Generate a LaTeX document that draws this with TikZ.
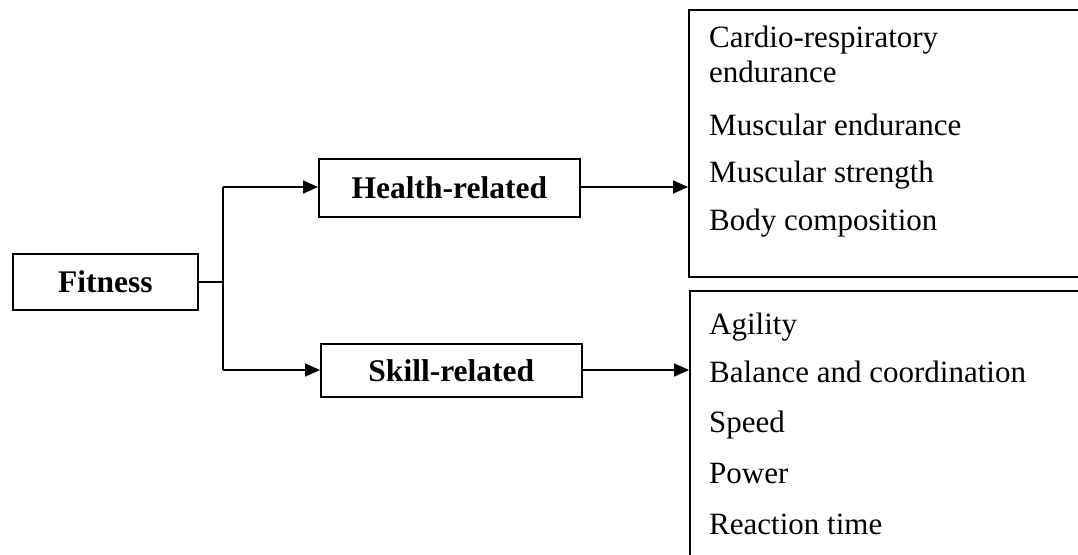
\documentclass[tikz,border=0pt]{standalone}
\usepackage{fontspec}
\setmainfont{Liberation Serif}
\usetikzlibrary{arrows.meta}
\tikzset{
  box/.style={draw, line width=1.6pt, rectangle, inner sep=0pt, anchor=north west},
  lbl/.style={font=\fontsize{31.5}{36}\selectfont\bfseries, inner sep=0pt},
  item/.style={font=\fontsize{31}{36}\selectfont, anchor=base west, inner sep=0pt},
  conn/.style={line width=1.6pt},
  arr/.style={line width=1.6pt, -{Triangle[length=15pt,width=13pt]}},
}
\begin{document}
\begin{tikzpicture}[x=1pt,y=-1pt]
\useasboundingbox (0,0) rectangle (1078,554);
\clip (0,0) rectangle (1078,554);
% main boxes
\node[box, minimum width=185pt, minimum height=56pt] (fit) at (12,253) {};
\node[lbl] (fitt) at (fit.center) {Fitness};
\node[box, minimum width=261pt, minimum height=58pt] (health) at (318,158) {};
\node[lbl] (healtht) at (health.center) {Health-related};
\node[box, minimum width=261pt, minimum height=53pt] (skill) at (320,343) {};
\node[lbl] (skillt) at (skill.center) {Skill-related};
% list boxes (extend beyond right/bottom edge)
\node[box, minimum width=420pt, minimum height=267pt] (hlist) at (688,9) {};
\node[box, minimum width=420pt, minimum height=300pt] (slist) at (689,290) {};
% list items
\node[item] (h1) at (709,47) {Cardio-respiratory};
\node[item] (h2) at (709,82) {endurance};
\node[item] (h3) at (709,135) {Muscular endurance};
\node[item] (h4) at (709,182) {Muscular strength};
\node[item] (h5) at (709,230) {Body composition};
\node[item] (s1) at (709,334) {Agility};
\node[item] (s2) at (709,382) {Balance and coordination};
\node[item] (s3) at (709,432) {Speed};
\node[item] (s4) at (709,483) {Power};
\node[item] (s5) at (709,534) {Reaction time};
% connectors
\coordinate (jt) at (223,187);
\coordinate (jb) at (223,370);
\draw[conn] (fit.east) -- (fit.east -| jt);
\draw[conn] (jt) -- (jb);
\draw[arr] (jt) -- (health.west |- jt);
\draw[arr] (jb) -- (skill.west |- jb);
\draw[arr] (health.east |- jt) -- (hlist.west |- jt);
\draw[arr] (skill.east |- jb) -- (slist.west |- jb);
\end{tikzpicture}
\end{document}
